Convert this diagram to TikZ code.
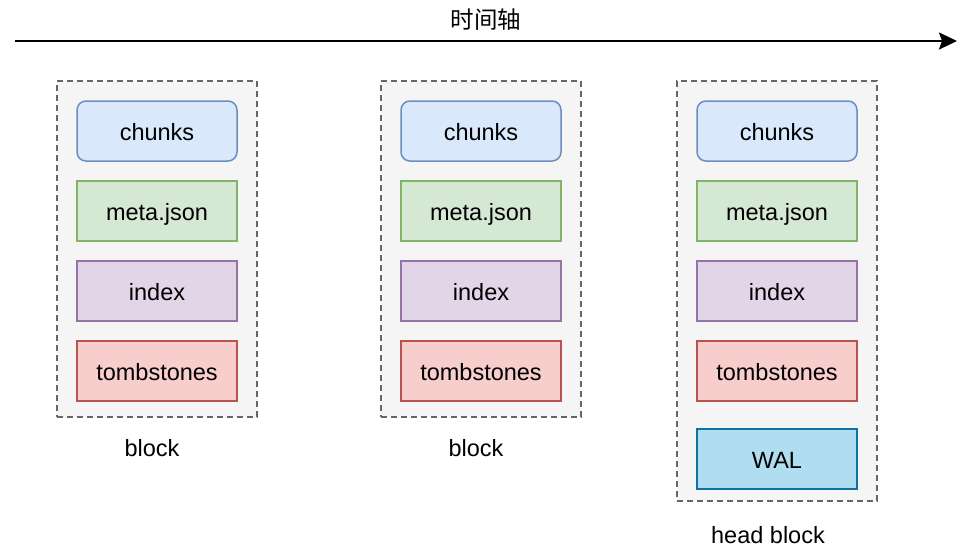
\documentclass[tikz,border=0pt]{standalone}
\usepackage{fontspec}
\setmainfont{Liberation Sans}
\newfontfamily\cjk{Noto Sans CJK SC}
\usetikzlibrary{arrows.meta}
\definecolor{cfill}{HTML}{F5F5F5}\definecolor{cdraw}{HTML}{666666}
\definecolor{bfill}{HTML}{DAE8FC}\definecolor{bdraw}{HTML}{6C8EBF}
\definecolor{gfill}{HTML}{D5E8D4}\definecolor{gdraw}{HTML}{82B366}
\definecolor{pfill}{HTML}{E1D5E7}\definecolor{pdraw}{HTML}{9673A6}
\definecolor{rfill}{HTML}{F8CECC}\definecolor{rdraw}{HTML}{B85450}
\definecolor{wfill}{HTML}{B1DDF0}\definecolor{wdraw}{HTML}{10739E}
\tikzset{
  container/.style={draw=cdraw, fill=cfill, line width=1.5pt, dash pattern=on 6pt off 4pt},
  item/.style={minimum width=160pt, minimum height=60pt, line width=1.5pt, inner sep=0pt,
    text height=22pt, text depth=4pt, font=\fontsize{23.5}{28}\selectfont, text=black},
  chunkbox/.style={item, draw=bdraw, fill=bfill, rounded corners=9pt},
  metabox/.style={item, draw=gdraw, fill=gfill},
  indexbox/.style={item, draw=pdraw, fill=pfill},
  tombbox/.style={item, draw=rdraw, fill=rfill},
  walbox/.style={item, draw=wdraw, fill=wfill},
  caption/.style={font=\fontsize{23.5}{28}\selectfont, inner sep=0pt, anchor=base},
}
\begin{document}
\begin{tikzpicture}[x=1pt, y=-1pt]
\useasboundingbox (0,0) rectangle (974,558);
% time axis
\coordinate (axs) at (15,41);
\coordinate (axe) at (957,41);
\draw[line width=2pt, -{Stealth[length=18pt, width=17pt, inset=3pt]}] (axs) -- (axe);
\node[font=\cjk\fontsize{23.5}{28}\selectfont, inner sep=0pt] (title) at (486,20) {时间轴};
% containers
\node[container, minimum width=200pt, minimum height=336pt, inner sep=0pt] (c1) at (157,249) {};
\node[container, minimum width=200pt, minimum height=336pt, inner sep=0pt] (c2) at (481,249) {};
\node[container, minimum width=200pt, minimum height=420pt, inner sep=0pt] (c3) at (777,291) {};
% block 1
\node[chunkbox] (ch1) at (157,131) {chunks};
\node[metabox] (me1) at (157,211) {meta.json};
\node[indexbox] (ix1) at (157,291) {index};
\node[tombbox] (tb1) at (157,371) {tombstones};
\node[caption] (l1) at (152,456) {block};
% block 2
\node[chunkbox] (ch2) at (481,131) {chunks};
\node[metabox] (me2) at (481,211) {meta.json};
\node[indexbox] (ix2) at (481,291) {index};
\node[tombbox] (tb2) at (481,371) {tombstones};
\node[caption] (l2) at (476,456) {block};
% head block
\node[chunkbox] (ch3) at (777,131) {chunks};
\node[metabox] (me3) at (777,211) {meta.json};
\node[indexbox] (ix3) at (777,291) {index};
\node[tombbox] (tb3) at (777,371) {tombstones};
\node[walbox] (wal) at (777,459) {WAL};
\node[caption] (l3) at (768,543) {head block};
\end{tikzpicture}
\end{document}
